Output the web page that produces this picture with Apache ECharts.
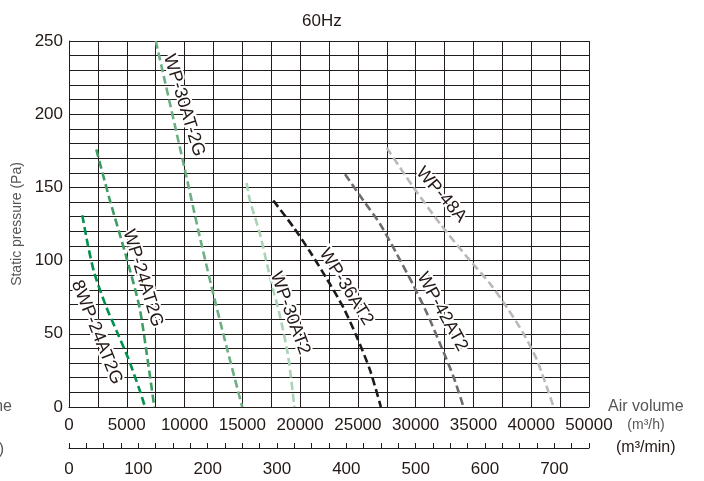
<!DOCTYPE html>
<html><head><meta charset="utf-8">
<script src="https://cdn.jsdelivr.net/npm/echarts@6/dist/echarts.min.js"></script>
<style>html,body{margin:0;padding:0;background:#fff}#c{width:704px;height:481px}</style>
</head><body><div id="c"></div>
<script>
// ---- data ----
const seriesNames = ['8WP-24AT2G','WP-24AT2G','WP-30AT-2G','WP-30AT2','WP-36AT2','WP-42AT2','WP-48A'];
// [air volume m3/h, static pressure Pa]
const s8WP24AT2G = [[1150,131],[1650,110],[2210,91],[3220,68.5],[4220,50],[5090,34],[6090,12],[6580,0]];
const sWP24AT2G  = [[2360,176],[3510,142],[4940,103],[6090,68.5],[6810,32],[7380,0]];
const sWP30AT2G  = [[7510,250],[10030,162],[11180,121],[12340,82],[13640,41],[14990,0]];
const sWP30AT2   = [[15370,153],[15660,141],[16530,118],[17390,89],[18260,62],[18980,34],[19500,0]];
const sWP36AT2   = [[17680,141],[19410,123],[20860,106],[22350,87],[23740,68],[24900,48],[26060,25],[26990,0]];
const sWP42AT2   = [[23890,159],[25480,141],[26920,125],[28400,104],[29810,83],[30980,64],[32120,43],[33280,20.5],[34140,0]];
const sWP48A     = [[27500,177],[29810,150],[32130,125],[34440,102.5],[36460,84],[37900,68],[39340,50],[40500,32],[41940,0]];
const allSeries = [s8WP24AT2G, sWP24AT2G, sWP30AT2G, sWP30AT2, sWP36AT2, sWP42AT2, sWP48A];

const yTickValues = [0,50,100,150,200,250];
const topTickValues = [0,5000,10000,15000,20000,25000,30000,35000,40000,45000];
const topTickLabels = ['0','5000','10000','15000','20000','25000','30000','35000','40000','50000'];
const minTickValues = [0,100,200,300,400,500,600,700];

// ---- styling / placement ----
const colors = ['#00914c','#3e9d64','#6caf82','#a9d3b4','#1b1b1b','#6d6d6d','#b9b9b9'];
const labelAnchors = [[2400,51],[6390,88],[9940,206],[19120,64],[23980,82],[32300,65],[32210,145]];
const labelAngles  = [68,73,73,70,58,61,49];
const FONT = '"Liberation Sans", Arial, sans-serif';
const INK = '#231815';
const GRIDC = '#221c1c';

const chart = echarts.init(document.getElementById('c'), null, {renderer:'canvas'});
const option = {
  animation:false,
  backgroundColor:'#fff',
  textStyle:{fontFamily:FONT},
  title:{text:'60Hz', left:297, top:8, textStyle:{fontFamily:FONT,fontSize:17,fontWeight:'normal',color:INK}},
  grid:{left:69, top:41, right:115, bottom:74, outerBoundsMode:'none', containLabel:false},
  xAxis:[
    {type:'value', min:0, max:45000, interval:2500, position:'bottom',
     name:'Air volume', nameLocation:'end', nameGap:19,
     nameTextStyle:{fontFamily:FONT,fontSize:16,color:'#555',verticalAlign:'middle'},
     axisLine:{show:true,lineStyle:{color:GRIDC,width:1}},
     axisTick:{show:false},
     axisLabel:{margin:10,fontFamily:FONT,fontSize:17,color:INK,showMinLabel:true,showMaxLabel:true,hideOverlap:false,
       formatter:v=>{const i=topTickValues.indexOf(v);return i>=0?topTickLabels[i]:'';}},
     splitLine:{show:true,lineStyle:{color:GRIDC,width:1}}},
    {type:'value', min:0, max:750, interval:25, position:'bottom', offset:41,
     name:'(m³/min)', nameLocation:'end', nameGap:27,
     nameTextStyle:{fontFamily:FONT,fontSize:16,color:INK,verticalAlign:'middle'},
     axisLine:{show:true,lineStyle:{color:GRIDC,width:1}},
     axisTick:{show:true,inside:true,length:5,lineStyle:{color:GRIDC,width:1}},
     axisLabel:{margin:13,fontFamily:FONT,fontSize:17,color:INK,hideOverlap:false,
       formatter:v=>minTickValues.indexOf(v)>=0?String(v):''},
     splitLine:{show:false}}
  ],
  yAxis:{type:'value', min:0, max:250, interval:10,
     name:'Static pressure (Pa)', nameLocation:'middle', nameRotate:90, nameGap:40,
     nameTextStyle:{fontFamily:FONT,fontSize:14,color:'#555'},
     axisLine:{show:true,lineStyle:{color:GRIDC,width:1}},
     axisTick:{show:false},
     axisLabel:{margin:6,fontFamily:FONT,fontSize:17,color:INK,hideOverlap:false,
       formatter:v=>yTickValues.indexOf(v)>=0?String(v):''},
     splitLine:{show:true,lineStyle:{color:GRIDC,width:1}}},
  series: allSeries.map((d,i)=>({
    name:seriesNames[i], type:'line', xAxisIndex:0, yAxisIndex:0, data:d,
    symbol:'none', smooth:0.25, z:3,
    lineStyle:{color:colors[i], width:2.6, type:[8,4]}
  }))
};
chart.setOption(option);

const g = [];
labelAnchors.forEach((a,i)=>{
  const p = chart.convertToPixel({xAxisIndex:0,yAxisIndex:0}, a);
  g.push({type:'text', x:p[0], y:p[1], rotation:-labelAngles[i]*Math.PI/180, z:10,
    style:{text:seriesNames[i], fill:INK, font:'18px '+FONT, align:'center', verticalAlign:'middle',
      stroke:'#fff', lineWidth:4}});
});
g.push({type:'text', x:646, y:425, style:{text:'(m³/h)', fill:'#555', font:'14px '+FONT, align:'center', verticalAlign:'middle'}});
g.push({type:'text', x:12, y:407, style:{text:'Air volume', fill:'#555', font:'16px '+FONT, align:'right', verticalAlign:'middle'}});
g.push({type:'text', x:4, y:450, style:{text:'(m³/min)', fill:'#555', font:'16px '+FONT, align:'right', verticalAlign:'middle'}});
chart.setOption({graphic:g});
</script></body></html>
